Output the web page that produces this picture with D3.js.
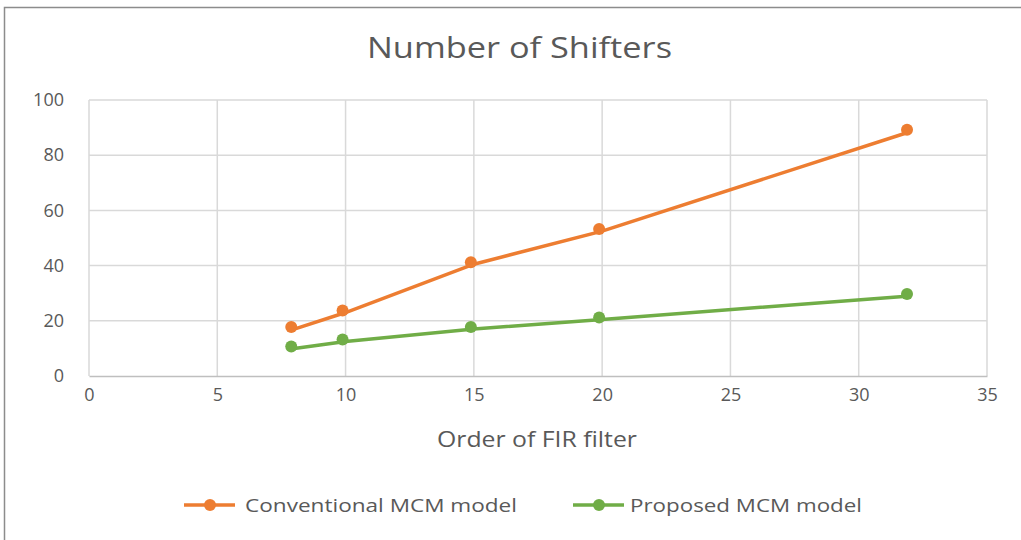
<!DOCTYPE html>
<html>
<head>
<meta charset="utf-8">
<script src="https://cdn.jsdelivr.net/npm/d3@7"></script>
<style>
  body { margin: 0; background: #fff; }
  text { font-family: "Open Sans", sans-serif; fill: #595959; }
</style>
</head>
<body>
<script>
// data
var orders = [8, 10, 15, 20, 32];
var conventional = [17, 23, 40.5, 52.5, 88.5];
var proposed = [10, 12.5, 17, 20.5, 29];
var seriesNames = ["Conventional MCM model", "Proposed MCM model"];
var seriesColors = ["#ED7D31", "#70AD47"];
var xTicks = [0, 5, 10, 15, 20, 25, 30, 35];
var yTicks = [0, 20, 40, 60, 80, 100];

var w = 1021, h = 540;
var svg = d3.select("body").append("svg").attr("width", w).attr("height", h);

// chart frame
svg.append("rect")
  .attr("x", 4.5).attr("y", 7.5)
  .attr("width", w + 10).attr("height", h + 10)
  .attr("fill", "none").attr("stroke", "#8c8c8c").attr("stroke-width", 1.5);

// the picture is a bit stretched sideways, so text widths are pinned
svg.append("text")
  .attr("x", 367).attr("y", 58)
  .attr("textLength", 305).attr("lengthAdjust", "spacingAndGlyphs")
  .style("font-size", "30px")
  .text("Number of Shifters");

var x = d3.scaleLinear().domain([0, 35]).range([89, 987]);
var y = d3.scaleLinear().domain([0, 100]).range([376, 100]);

// grid
svg.append("g").selectAll("line.h")
  .data(yTicks.filter(function (d) { return d > 0; }))
  .enter().append("line")
  .attr("x1", x(0)).attr("x2", x(35))
  .attr("y1", function (d) { return y(d); }).attr("y2", function (d) { return y(d); })
  .attr("stroke", "#d9d9d9").attr("stroke-width", 1.5);

svg.append("g").selectAll("line.v")
  .data(xTicks)
  .enter().append("line")
  .attr("x1", function (d) { return x(d); }).attr("x2", function (d) { return x(d); })
  .attr("y1", y(0)).attr("y2", y(100))
  .attr("stroke", "#d9d9d9").attr("stroke-width", 1.5);

// x axis
var xAxis = svg.append("g")
  .attr("transform", "translate(0," + y(0) + ")")
  .call(d3.axisBottom(x).tickValues(xTicks).tickSize(0).tickPadding(12));
xAxis.select(".domain").attr("stroke", "#bfbfbf").attr("stroke-width", 1.5);
xAxis.selectAll("text").style("font-size", "18px").attr("fill", "#595959");

// y axis
var yAxis = svg.append("g")
  .attr("transform", "translate(64,0)")
  .call(d3.axisLeft(y).tickValues(yTicks).tickSize(0).tickPadding(0));
yAxis.select(".domain").remove();
yAxis.selectAll("text").style("font-size", "18px").attr("fill", "#595959");

svg.append("text")
  .attr("x", 437).attr("y", 447)
  .attr("textLength", 200).attr("lengthAdjust", "spacingAndGlyphs")
  .style("font-size", "21px")
  .text("Order of FIR filter");

// series
var series = [conventional, proposed];
var line = d3.line()
  .x(function (d, i) { return x(orders[i]); })
  .y(function (d) { return y(d); });

series.forEach(function (vals, k) {
  svg.append("path")
    .datum(vals)
    .attr("d", line)
    .attr("fill", "none")
    .attr("stroke", seriesColors[k])
    .attr("stroke-width", 3.5)
    .attr("stroke-linecap", "round");

  svg.append("g").selectAll("circle")
    .data(vals)
    .enter().append("circle")
    .attr("cx", function (d, i) { return x(orders[i]) - 3; })
    .attr("cy", function (d) { return y(d) - 2; })
    .attr("r", 6)
    .attr("fill", seriesColors[k]);
});

// legend
var legendX = [184, 573];
var legendTextX = [61, 57];
var legendTextW = [272, 232];
var legend = svg.append("g").selectAll("g")
  .data(seriesNames)
  .enter().append("g")
  .attr("transform", function (d, i) { return "translate(" + legendX[i] + ",505)"; });

legend.append("line")
  .attr("x1", 0).attr("x2", 51)
  .attr("stroke", function (d, i) { return seriesColors[i]; })
  .attr("stroke-width", 3.5);
legend.append("circle")
  .attr("cx", 26).attr("r", 6)
  .attr("fill", function (d, i) { return seriesColors[i]; });
legend.append("text")
  .attr("x", function (d, i) { return legendTextX[i]; })
  .attr("dy", "0.35em")
  .attr("textLength", function (d, i) { return legendTextW[i]; })
  .attr("lengthAdjust", "spacingAndGlyphs")
  .style("font-size", "19px")
  .text(function (d) { return d; });
</script>
</body>
</html>
